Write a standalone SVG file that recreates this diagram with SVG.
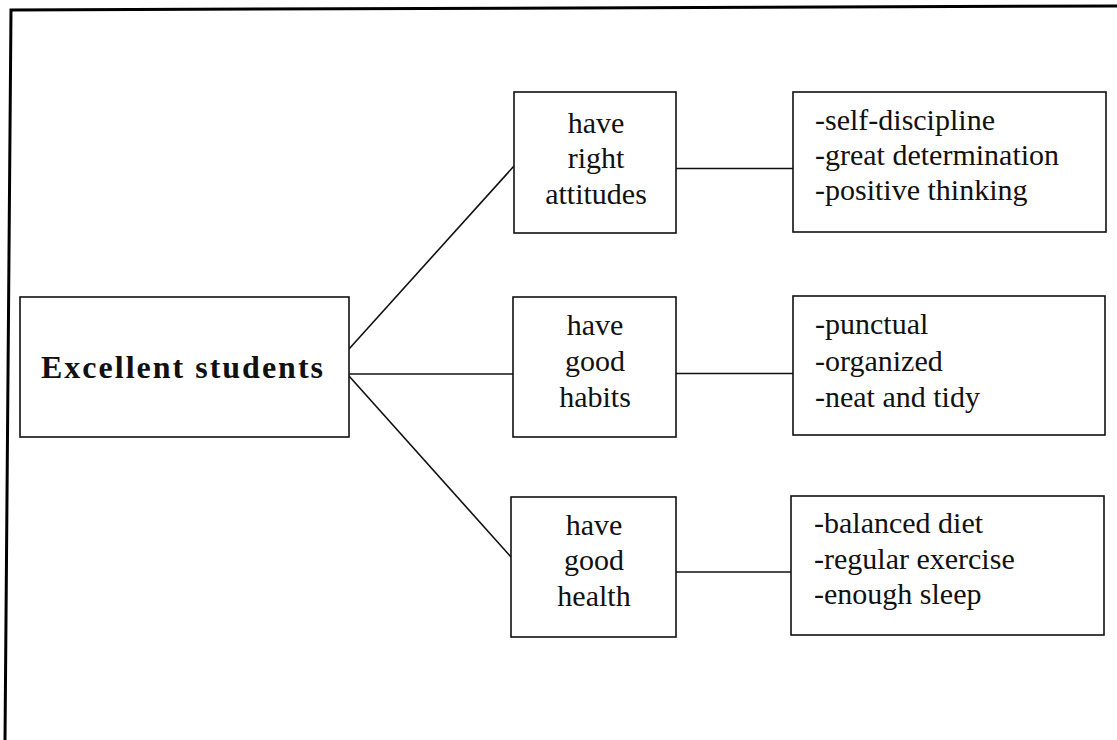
<svg xmlns="http://www.w3.org/2000/svg" width="1117" height="740" viewBox="0 0 1117 740">
  <style>
    .box { fill: #fff; stroke: #111; stroke-width: 1.6; }
    .conn { stroke: #111; stroke-width: 1.6; fill: none; }
    .frame { stroke: #000; stroke-width: 3; fill: none; }
    .t { font-family: "Liberation Serif", "Times New Roman", serif; font-size: 30px; fill: #111; }
    .c { text-anchor: middle; }
    .main { font-family: "Liberation Serif", "Times New Roman", serif; font-size: 32px; font-weight: bold; letter-spacing: 2px; fill: #111; text-anchor: middle; }
  </style>
  <rect width="1117" height="740" fill="#fff"/>
  <path class="frame" d="M 5 740 L 11 10 L 1117 6"/>

  <g id="connectors">
    <line class="conn" x1="349" y1="349" x2="514" y2="166"/>
    <line class="conn" x1="349" y1="374" x2="513" y2="374"/>
    <line class="conn" x1="349" y1="376" x2="511" y2="557"/>
    <line class="conn" x1="676" y1="168.5" x2="793" y2="168.5"/>
    <line class="conn" x1="676" y1="373.5" x2="793" y2="373.5"/>
    <line class="conn" x1="676" y1="572" x2="791" y2="572"/>
  </g>

  <g id="excellent-students">
    <rect class="box" x="20" y="297" width="329" height="140"/>
    <text class="main" x="183" y="378">Excellent students</text>
  </g>

  <g id="right-attitudes">
    <rect class="box" x="514" y="92" width="162" height="141"/>
    <text class="t c" x="596" y="133">have</text>
    <text class="t c" x="596" y="168">right</text>
    <text class="t c" x="596" y="204">attitudes</text>
  </g>

  <g id="good-habits">
    <rect class="box" x="513" y="297" width="163" height="140"/>
    <text class="t c" x="595" y="335">have</text>
    <text class="t c" x="595" y="371">good</text>
    <text class="t c" x="595" y="407">habits</text>
  </g>

  <g id="good-health">
    <rect class="box" x="511" y="497" width="165" height="140"/>
    <text class="t c" x="594" y="535">have</text>
    <text class="t c" x="594" y="570">good</text>
    <text class="t c" x="594" y="606">health</text>
  </g>

  <g id="attitudes-list">
    <rect class="box" x="793" y="92" width="313" height="140"/>
    <text class="t" x="815" y="130">-self-discipline</text>
    <text class="t" x="815" y="165">-great determination</text>
    <text class="t" x="815" y="200">-positive thinking</text>
  </g>

  <g id="habits-list">
    <rect class="box" x="793" y="296" width="312" height="139"/>
    <text class="t" x="815" y="334">-punctual</text>
    <text class="t" x="815" y="371">-organized</text>
    <text class="t" x="815" y="407">-neat and tidy</text>
  </g>

  <g id="health-list">
    <rect class="box" x="791" y="496" width="313" height="139"/>
    <text class="t" x="814" y="533">-balanced diet</text>
    <text class="t" x="814" y="569">-regular exercise</text>
    <text class="t" x="814" y="604">-enough sleep</text>
  </g>
</svg>
